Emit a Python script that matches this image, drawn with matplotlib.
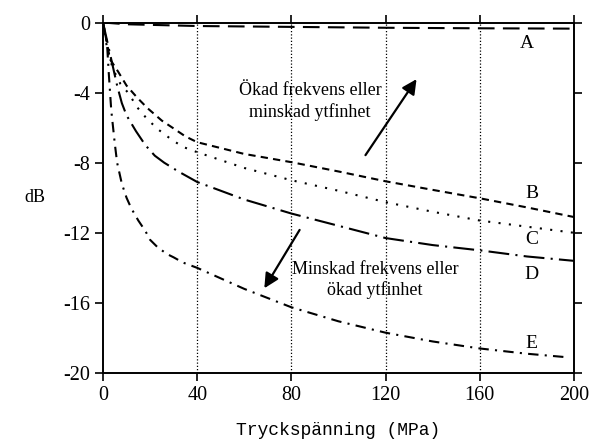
import matplotlib
matplotlib.use("Agg")
import matplotlib.pyplot as plt

plt.rcParams['font.family'] = ['Liberation Serif', 'DejaVu Serif']
plt.rcParams['axes.unicode_minus'] = False

# kurvor, avlasta ur diagrammet (MPa, dB)
xA = [0, 10, 40, 80, 120, 160, 200]
yA = [0, -0.1, -0.2, -0.25, -0.3, -0.33, -0.35]

xB = [0, 3, 6.4, 10, 14.6, 19, 25, 30.6, 35, 40, 60, 80, 100, 120, 140, 160, 180, 200]
yB = [0, -2.1, -2.8, -3.6, -4.3, -4.9, -5.6, -6.1, -6.5, -6.83, -7.5, -7.97, -8.5, -9.06, -9.55, -10.03, -10.55, -11.1]

xC = [0, 2, 4.4, 7.4, 10.6, 14.9, 18.7, 23.4, 29.3, 34, 40, 60, 80, 100, 120, 140, 160, 180, 200]
yC = [0, -1.7, -2.7, -3.5, -4.0, -4.9, -5.5, -6.1, -6.7, -7.1, -7.4, -8.3, -9.0, -9.6, -10.25, -10.8, -11.3, -11.65, -12.0]

xD = [0, 2, 4, 6, 8, 10, 14, 18, 22, 26, 32, 40, 60, 80, 100, 120, 140, 160, 180, 200]
yD = [0, -1.2, -2.4, -3.6, -4.6, -5.3, -6.2, -7.0, -7.6, -8.0, -8.5, -9.1, -10.1, -10.9, -11.6, -12.3, -12.7, -13.0, -13.35, -13.6]

xE = [0, 1.7, 2.5, 3.5, 5, 6, 8, 10, 12, 15, 18, 20, 23, 27, 30, 34, 38, 40, 60, 80, 100, 120, 140, 160, 180, 197]
yE = [0, -1.2, -3.0, -5.0, -6.9, -8.0, -9.2, -10.0, -10.6, -11.3, -11.9, -12.4, -12.8, -13.2, -13.4, -13.7, -13.9, -14.0, -15.2, -16.25, -17.05, -17.7, -18.2, -18.6, -18.9, -19.1]

kurv_namn = ['A', 'B', 'C', 'D', 'E']
namn_x = [180, 182, 182, 182, 182]
namn_y = [-1.2, -9.75, -12.4, -14.4, -18.3]

xticks = [0, 40, 80, 120, 160, 200]
yticks = [0, -4, -8, -12, -16, -20]
grid_x = [40, 80, 120, 160]

fig = plt.figure(figsize=(5.94, 4.44), dpi=100)
ax = fig.add_axes([0.1734, 0.1599, 0.7929, 0.7894])

for gx in grid_x:
    ax.axvline(gx, color='black', lw=0.9, linestyle=(0, (1, 1.6)), zorder=1)

lw = 1.5
ax.plot(xA, yA, color='black', lw=lw, linestyle=(0, (8, 4)))
ax.plot(xB, yB, color='black', lw=lw, linestyle=(0, (3.5, 2.5)))
ax.plot(xC, yC, color='black', lw=lw, linestyle=(0, (1, 4)))
ax.plot(xD, yD, color='black', lw=lw, linestyle=(0, (10, 3, 1, 3)))
ax.plot(xE, yE, color='black', lw=lw, linestyle=(0, (5, 3, 1, 3)))

for n, tx, ty in zip(kurv_namn, namn_x, namn_y):
    ax.text(tx, ty, n, fontsize=14, ha='center', va='center')

# pilar och förklaringar
ax.annotate('', xy=(133.8, -3.1), xytext=(110.8, -7.7),
            arrowprops=dict(arrowstyle='-|>', color='black', lw=1.6,
                            mutation_scale=22))
ax.annotate('', xy=(67.9, -15.3), xytext=(84.1, -11.7),
            arrowprops=dict(arrowstyle='-|>', color='black', lw=1.6,
                            mutation_scale=22))
ax.text(87.9, -4.5, 'Ökad frekvens eller\nminskad ytfinhet', fontsize=13,
        ha='center', va='center', linespacing=1.25)
ax.text(115.5, -14.7, 'Minskad frekvens eller\nökad ytfinhet', fontsize=13,
        ha='center', va='center', linespacing=1.25)

ax.set_xlim(0, 200)
ax.set_ylim(-20, 0)
ax.set_xticks(xticks)
ax.set_yticks(yticks)
ax.tick_params(direction='out', length=6, width=1.2, labelsize=14.5,
               top=True, right=True, labeltop=False, labelright=False)
for s in ax.spines.values():
    s.set_linewidth(1.4)

ax.set_xlabel('Tryckspänning (MPa)', family='Liberation Mono', fontsize=13, va='center')
ax.xaxis.set_label_coords(0.5, -0.163)
ax.set_ylabel('dB', rotation=0, fontsize=13, ha='center', va='center')
ax.yaxis.set_label_coords(-0.144, 0.5)

fig.savefig('out.png', dpi=100)
